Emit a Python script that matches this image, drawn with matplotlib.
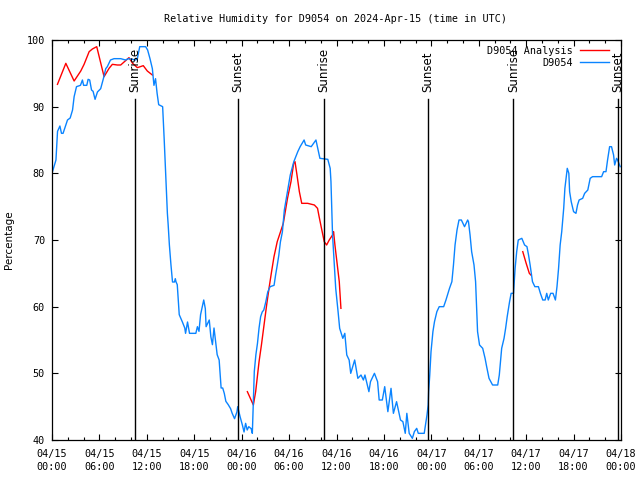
import numpy as np
import pandas as pd
import matplotlib
matplotlib.use('Agg')
import matplotlib.pyplot as plt
import matplotlib.dates as mdates


# hours after 2024-04-15 00:00 UTC, relative humidity (%)
obs_hours = [0.0, 0.5, 0.7, 1.0, 1.2, 1.4, 1.96, 2.3, 2.6, 2.8, 3.1, 3.6, 3.85, 4.0, 4.4,
             4.57, 4.77, 5.0, 5.2, 5.45, 5.75, 6.16, 6.5, 6.8, 7.0, 7.4, 7.85, 8.7, 9.3,
             9.7, 10.6, 10.8, 11.1, 11.85, 12.1, 12.4, 12.7, 12.9, 13.1, 13.3, 13.5, 14.0,
             14.2, 14.4, 14.6, 14.7, 14.85, 15.05, 15.25, 15.5, 15.6, 15.7, 15.85, 16.1,
             16.5, 16.8, 16.9, 17.15, 17.4, 18.2, 18.4, 18.6, 18.8, 19.2, 19.4, 19.5, 19.9,
             20.1, 20.3, 20.5, 20.7, 20.9, 21.15, 21.4, 21.6, 21.8, 22.0, 22.3, 22.6, 22.8,
             23.1, 23.4, 23.5, 23.8, 24.1, 24.3, 24.5, 24.7, 24.9, 25.2, 25.35, 25.5, 25.6,
             25.8, 26.0, 26.2, 26.4, 26.6, 26.8, 27.05, 27.3, 27.6, 28.1, 28.3, 28.5, 28.7,
             28.9, 29.15, 29.4, 29.8, 30.15, 30.6, 31.1, 31.4, 31.9, 32.1, 32.8, 33.4, 33.9,
             34.9, 35.2, 35.3, 35.4, 35.5, 35.7, 35.9, 36.2, 36.4, 36.8, 37.05, 37.3, 37.6,
             37.8, 38.3, 38.7, 39.1, 39.4, 39.6, 40.1, 40.3, 40.8, 41.2, 41.4, 41.8, 42.1,
             42.5, 42.9, 43.2, 43.6, 44.1, 44.4, 44.7, 44.9, 45.2, 45.6, 45.85, 46.15, 46.35,
             47.1, 47.45, 47.6, 47.66, 47.8, 47.96, 48.2, 48.4, 48.7, 49.0, 49.56, 49.85,
             50.3, 50.6, 50.8, 51.0, 51.25, 51.5, 51.8, 52.2, 52.6, 52.7, 52.9, 53.1, 53.4,
             53.6, 53.85, 54.1, 54.5, 54.8, 55.0, 55.3, 55.75, 56.4, 56.6, 56.9, 57.2, 57.4,
             57.6, 57.9, 58.1, 58.4, 58.6, 58.8, 59.0, 59.45, 59.8, 60.1, 60.3, 60.5, 60.8,
             61.1, 61.55, 61.8, 62.1, 62.4, 62.6, 62.8, 63.1, 63.4, 63.7, 63.9, 64.1, 64.3,
             64.5, 64.75, 64.9, 65.2, 65.4, 65.5, 65.7, 66.0, 66.3, 66.5, 66.7, 67.15, 67.4,
             67.8, 68.1, 68.4, 69.55, 69.8, 70.1, 70.3, 70.56, 70.8, 71.06, 71.2, 71.44,
             71.57, 71.9]
obs_rh = [80, 82, 86.3, 87.1, 86, 86, 88, 88.3, 89.5, 91.5, 93, 93.2, 94, 93.2, 93.2,
          94.1, 94, 92.5, 92.3, 91.1, 92.2, 92.7, 94.2, 95.7, 96, 97, 97.2, 97.2, 97,
          97.2, 97, 97.2, 99, 99, 98.5, 97.2, 95.7, 93.2, 94.2, 92, 90.3, 90,
          85, 79.5, 74, 72.3, 69.3, 66.3, 63.7, 63.7, 64.2, 63.7, 63.3, 58.8,
          57.7, 56.8, 56, 57.7, 56, 56, 57, 56.3, 58.8, 61, 59.7, 57, 58,
          55.5, 54.3, 56.8, 54.8, 52.8, 52, 47.8, 47.8, 47, 45.8, 45.3, 44.7, 44,
          43.2, 44.2, 45, 43.5, 42.2, 41.2, 42.5, 41.5, 42, 41.7, 41, 46.8, 50.3,
          52.8, 54.5, 56.8, 58.5, 59.2, 59.5, 60.7, 62.2, 63, 63.2, 64.8, 66.2, 67.7,
          69.7, 71.2, 74.5, 77.25, 79.75, 81.75, 83.25, 84, 85, 84.25, 84, 85, 82.25,
          82.1, 80.75, 78.75, 74.75, 70.75, 66.75, 62.75, 59.25, 56.75, 55.25, 56, 52.75, 52,
          50, 52, 49.25, 49.75, 49, 49.75, 47.25, 48.75, 50, 48.75, 46, 46, 48,
          44.25, 47.75, 44, 45.75, 43, 42.75, 41, 44, 41, 40.25, 41.25, 41.75, 41,
          41, 43.75, 45.25, 47.25, 49.75, 53.25, 56.25, 57.75, 59.25, 60, 60, 61,
          62.75, 63.75, 66.25, 69.25, 71.5, 73, 73, 72, 73, 72.75, 70.75, 68.25, 66.25,
          63.75, 56.25, 54.25, 53.75, 52.25, 51, 49.25, 48.25, 48.25, 49.75, 53.75, 55.25, 56.75,
          58.5, 60.75, 62, 62, 65.75, 68.25, 70, 70.25, 69.25, 69, 67.75, 66.25, 63.75,
          63, 63, 62, 61, 61, 62, 61, 62, 62, 61, 63, 65.75, 69.25,
          71.25, 74.75, 77.75, 80.75, 80, 77.25, 75.75, 74.25, 74, 75.25, 76, 76.25, 77,
          77.5, 79.25, 79.5, 79.5, 80.25, 80.25, 82, 84, 84, 82.75, 81.25, 82.25,
          82, 81]

# analysis series, NaN = no data (gap in the line)
ana_hours = [0.69, 1.75, 2.8, 3.64, 4.06, 4.7, 5.11, 5.66, 6.59, 7.22, 7.64, 8.27, 8.69,
             9.74, 10.2, 10.8, 11.55, 12.06, 12.7, 18.0,
             24.72, 25.48, 25.77, 26.2, 26.5, 26.83, 27.16, 27.46, 27.75, 28.09, 28.5, 28.85,
             29.27, 29.8, 30.24, 30.58, 30.75, 31.0, 31.3, 31.6, 32.35, 33.2, 33.6, 33.8,
             34.1, 34.45, 34.75, 35.08, 35.5, 35.63, 35.8, 36.05, 36.35, 36.56, 48.0,
             59.57, 60.0, 60.4, 60.6]
ana_rh = [93.35, 96.5, 93.85, 95.35, 96.35, 98.25, 98.65, 99, 94.5, 95.75, 96.35, 96.25, 96.25,
          97.35, 96.5, 95.85, 96.15, 95.35, 94.75, np.nan,
          47.25, 45.25, 47.25, 51.75, 54.25, 57.25, 60.25, 62.75, 65, 67.5, 69.75, 71,
          72.5, 76.25, 78.75, 81.5, 81.75, 79.75, 77.25, 75.5, 75.5, 75.25, 74.75, 73.5,
          71.75, 69.75, 69.25, 70, 70.75, 71.25, 69.25, 66.75, 63.75, 59.75, np.nan,
          68.25, 66.5, 65, 64.75]

sun_hours = [10.47, 23.55, 34.42, 47.6, 58.37, 71.6]
sun_names = ['Sunrise', 'Sunset', 'Sunrise', 'Sunset', 'Sunrise', 'Sunset']

t0 = pd.Timestamp('2024-04-15 00:00')
obs_t = t0 + pd.to_timedelta(obs_hours, unit='h')
ana_t = t0 + pd.to_timedelta(ana_hours, unit='h')
sun_t = t0 + pd.to_timedelta(sun_hours, unit='h')

mono = 'DejaVu Sans Mono'
fs = 7.3

fig = plt.figure(figsize=(6.4, 4.8), dpi=100)
ax = fig.add_axes([52/640, 40/480, 569/640, 400/480])

ax.plot(ana_t, ana_rh, color='#ff0000', lw=1.0, label='D9054 Analysis')
ax.plot(obs_t, obs_rh, color='#0a84ff', lw=1.0, label='D9054')

for t, name in zip(sun_t, sun_names):
    ax.plot([t, t], [40, 91.2], color='black', lw=1.0)
    ax.text(t, 92.2, name, rotation=90, ha='center', va='bottom',
            fontsize=8.5, family='DejaVu Sans')

ax.set_xlim(t0, t0 + pd.Timedelta(hours=72))
ax.set_ylim(40, 100)
ax.set_yticks(np.arange(40, 101, 10))
ax.xaxis.set_major_locator(mdates.HourLocator(byhour=[0, 6, 12, 18]))
ax.xaxis.set_minor_locator(mdates.HourLocator(byhour=range(0, 24, 2)))
ax.xaxis.set_major_formatter(mdates.DateFormatter('%m/%d\n%H:%M'))

ax.tick_params(which='both', direction='in', top=True, right=True, width=0.8,
               labelsize=fs, colors='black')
ax.tick_params(which='major', length=4.5, pad=5)
ax.tick_params(axis='x', which='major', pad=6.5)
ax.tick_params(which='minor', length=2.5)
for lab in ax.get_xticklabels() + ax.get_yticklabels():
    lab.set_family(mono)
for lab in ax.get_xticklabels():
    lab.set_linespacing(1.35)
for s in ax.spines.values():
    s.set_linewidth(0.9)

ax.set_ylabel('Percentage', fontsize=7.5, family='DejaVu Sans')
ax.yaxis.set_label_coords(-0.066, 0.5)

fig.text(336/640, 1 - 19/480, 'Relative Humidity for D9054 on 2024-Apr-15 (time in UTC)',
         ha='center', va='center', fontsize=fs, family=mono)

ax.legend(loc='upper right', bbox_to_anchor=(0.979, 0.985), frameon=False,
          markerfirst=False, prop={'family': mono, 'size': fs}, handlelength=2.9,
          handletextpad=0.7, labelspacing=0.15, borderpad=0, borderaxespad=0)

fig.savefig('out.png', dpi=100)
